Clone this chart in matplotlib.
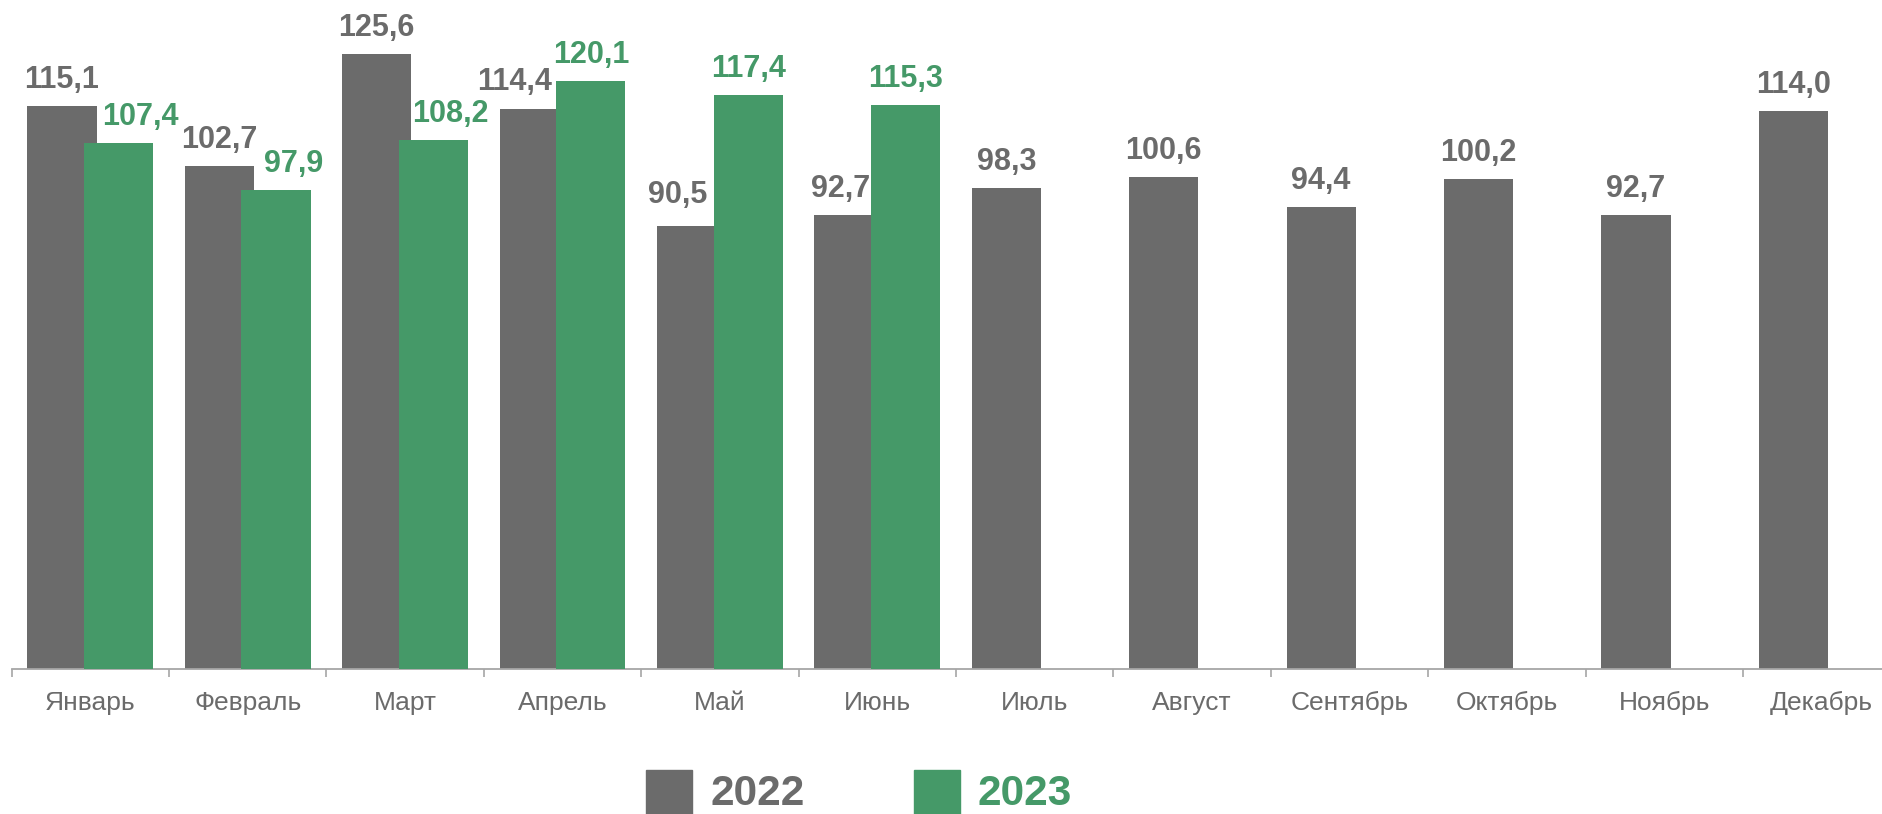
import matplotlib
matplotlib.use("Agg")
import matplotlib.pyplot as plt
import matplotlib.patches as mpatches
import numpy as np

months = ["Январь", "Февраль", "Март", "Апрель", "Май", "Июнь",
          "Июль", "Август", "Сентябрь", "Октябрь", "Ноябрь", "Декабрь"]
values_2022 = [115.1, 102.7, 125.6, 114.4, 90.5, 92.7, 98.3, 100.6, 94.4, 100.2, 92.7, 114.0]
values_2023 = [107.4, 97.9, 108.2, 120.1, 117.4, 115.3]
series_names = ["2022", "2023"]

# label nudges (points) to avoid overlaps: (dx, dy)
nudge_2022 = [(0, 13), (0, 13), (0, 13), (-14, 14), (-10, 17), (-6, 13),
              (0, 13), (0, 13), (0, 13), (0, 13), (0, 13), (0, 13)]
nudge_2023 = [(15.8, 13), (13.0, 13), (12.2, 13), (0, 13), (0, 13), (0, 13)]

GRAY = "#6b6b6b"
GREEN = "#459968"
AXIS = "#a6a6a6"

W, H = 1883, 814
fig = plt.figure(figsize=(W / 100, H / 100), dpi=100)
plt.rcParams['font.family'] = ['Liberation Sans', 'DejaVu Sans']

left_px, cat_px, base_px = 11.6, 157.4, 669
px_per_unit = 4.893
ax = fig.add_axes([left_px / W, (H - base_px) / H, 1 - left_px / W, base_px / H])

x = np.arange(len(months))
bw = 0.44
off = 0.18
ax.bar(x - off, values_2022, width=bw, color=GRAY, zorder=2)
x23 = np.arange(len(values_2023))
ax.bar(x23 + off, values_2023, width=bw, color=GREEN, zorder=3)

for s in ["top", "right", "left"]:
    ax.spines[s].set_visible(False)
ax.spines["bottom"].set_color(AXIS)
ax.spines["bottom"].set_linewidth(1.3)
ax.set_yticks([])
ax.set_xticks(x)
ax.set_xticklabels(months, fontsize=19, color=GRAY)
ax.set_xticks(np.arange(len(months) + 1) - 0.5, minor=True)
ax.tick_params(axis="x", which="major", length=0, pad=15.5)
ax.tick_params(axis="x", which="minor", length=5.8, width=1.2, color=AXIS, direction="out")

# set limits after ticks (set_xticks may expand view limits)
ax.set_xlim(-0.5, -0.5 + (W - left_px) / cat_px)
ax.set_ylim(0, base_px / px_per_unit)

for xi, v, n in zip(x, values_2022, nudge_2022):
    ax.annotate(f"{v:.1f}".replace(".", ","), (xi - off, v), xytext=n,
                textcoords="offset points", ha="center", va="baseline",
                fontsize=22, fontweight="bold", color=GRAY, zorder=5)
for xi, v, n in zip(x23, values_2023, nudge_2023):
    ax.annotate(f"{v:.1f}".replace(".", ","), (xi + off, v), xytext=n,
                textcoords="offset points", ha="center", va="baseline",
                fontsize=22, fontweight="bold", color=GREEN, zorder=5)

# legend
sq = 46
for (sx, tx, col, name) in [(646, 711, GRAY, series_names[0]), (914, 978, GREEN, series_names[1])]:
    fig.patches.append(mpatches.Rectangle((sx / W, (H - 816) / H), sq / W, sq / H,
                                          transform=fig.transFigure, color=col))
    fig.text(tx / W, 0.0, name, fontsize=30.5, fontweight="bold",
             color=col, ha="left", va="bottom")

fig.savefig("out.png", dpi=100)
